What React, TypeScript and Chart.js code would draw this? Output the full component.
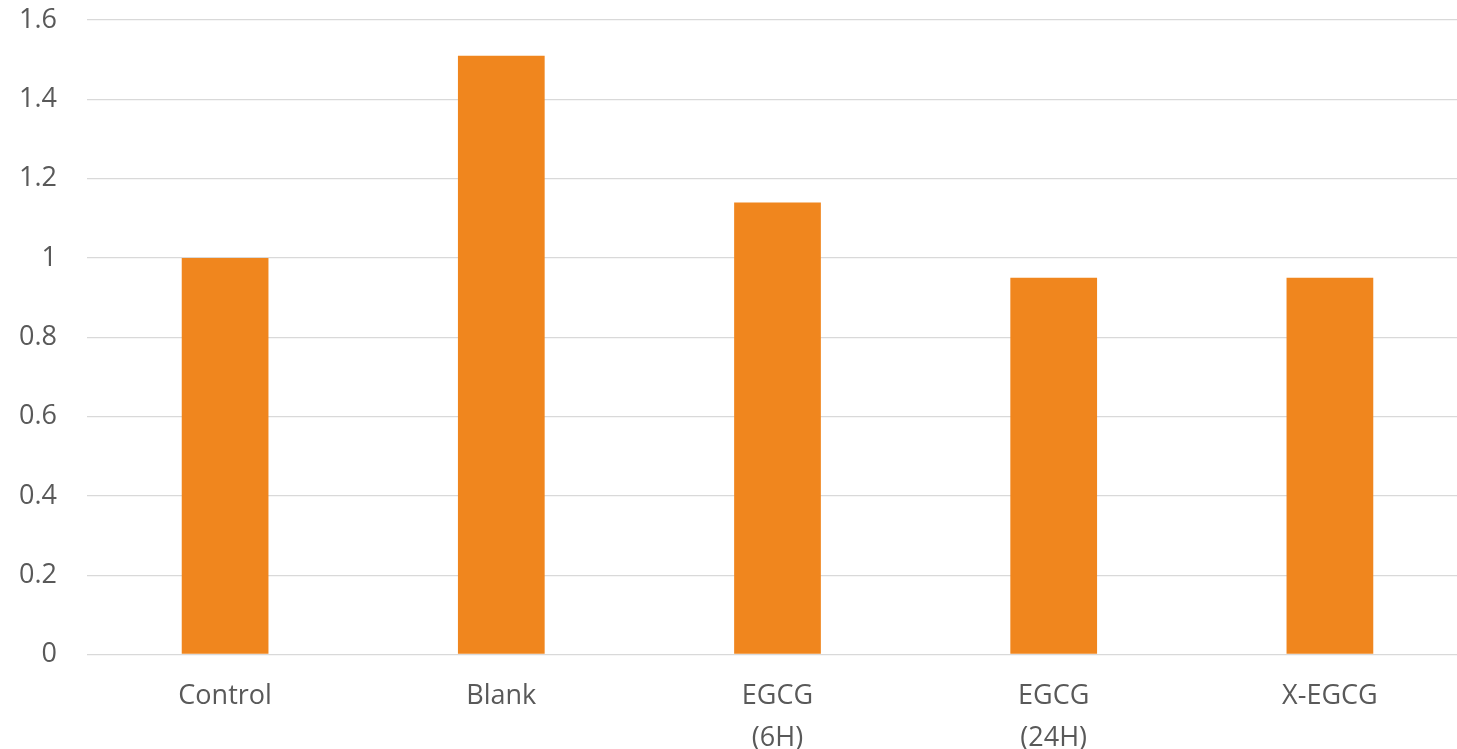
import React, { useEffect, useRef } from "react";
import { Chart, registerables } from "chart.js";

Chart.register(...registerables);

const categories: (string | string[])[] = ["Control", "Blank", ["EGCG", "(6H)"], ["EGCG", "(24H)"], "X-EGCG"];
const values: number[] = [1.0, 1.51, 1.14, 0.95, 0.95];
const yMin = 0;
const yMax = 1.6;
const yStep = 0.2;

const BAR_COLOR = "#F0861E";
const TEXT_COLOR = "#595959";
const GRID_COLOR = "#D9D9D9";
const FONT = "'Open Sans', 'Noto Sans', sans-serif";

export default function App() {
  const ref = useRef<HTMLCanvasElement | null>(null);

  useEffect(() => {
    document.body.style.margin = "0";
    document.body.style.overflow = "hidden";
    const canvas = ref.current;
    if (!canvas) return;
    const chart = new Chart(canvas, {
      type: "bar",
      data: {
        labels: categories,
        datasets: [
          {
            data: values,
            backgroundColor: BAR_COLOR,
            borderWidth: 0,
            barPercentage: 0.314,
            categoryPercentage: 1,
          },
        ],
      },
      options: {
        responsive: false,
        animation: false,
        layout: { padding: { top: 20, right: 2, left: 0, bottom: 0 } },
        plugins: { legend: { display: false }, tooltip: { enabled: false } },
        scales: {
          x: {
            grid: { display: false, drawTicks: false },
            border: { display: false },
            ticks: {
              color: TEXT_COLOR,
              font: { family: FONT, size: 27, lineHeight: 1.55 },
              padding: 21,
              maxRotation: 0,
              autoSkip: false,
            },
            afterFit: (s: any) => {
              s.height = 94.5;
              s.paddingLeft = 0;
              s.paddingRight = 0;
            },
          },
          y: {
            min: yMin,
            max: yMax,
            grid: { color: GRID_COLOR, lineWidth: 1.3, drawTicks: false },
            border: { display: false },
            ticks: {
              stepSize: yStep,
              color: TEXT_COLOR,
              font: { family: FONT, size: 27 },
              padding: 30,
              callback: (v: any) => String(Math.round(Number(v) * 10) / 10),
            },
            afterFit: (s: any) => {
              s.width = 87;
              s.paddingTop = 0;
              s.paddingBottom = 0;
            },
          },
        },
      },
    });
    return () => chart.destroy();
  }, []);

  return (
    <div style={{ position: "fixed", left: 0, top: 0, width: 1470, height: 749 }}>
      <canvas ref={ref} width={1470} height={749} />
    </div>
  );
}
